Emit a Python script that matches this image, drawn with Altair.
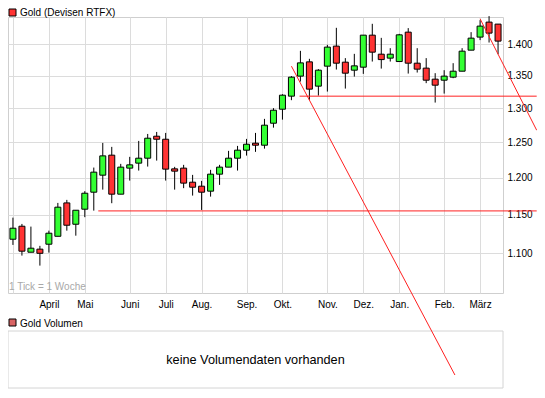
import altair as alt
import pandas as pd

# ---- weekly candles (price in USD, German number format on axis) ----
opens = [1118.0, 1134.9, 1101.4, 1105.3, 1111.6, 1121.8, 1165.8, 1137.5, 1157.4, 1180.3,
         1203.7, 1231.8, 1177.6, 1213.5, 1220.5, 1227.5, 1259.0, 1254.6, 1212.5, 1213.5,
         1194.0, 1188.5, 1181.7, 1205.1, 1214.9, 1227.5, 1238.9, 1248.9, 1246.0, 1278.0,
         1298.8, 1318.5, 1349.3, 1371.7, 1333.8, 1364.9, 1396.8, 1371.2, 1358.6, 1363.3,
         1414.6, 1383.9, 1377.6, 1372.2, 1419.5, 1369.6, 1361.8, 1344.6, 1343.0, 1347.7,
         1357.0, 1390.3, 1411.4, 1436.0, 1432.7]
highs = [1146.2, 1137.9, 1134.4, 1109.5, 1129.1, 1165.8, 1169.9, 1156.0, 1181.7, 1214.3,
         1249.3, 1243.6, 1219.5, 1229.4, 1252.2, 1262.3, 1265.2, 1263.8, 1215.3, 1218.1,
         1204.1, 1195.8, 1211.1, 1218.1, 1237.9, 1245.0, 1255.1, 1263.8, 1284.4, 1300.4,
         1321.5, 1349.3, 1389.2, 1376.5, 1360.2, 1398.9, 1426.6, 1377.6, 1384.4, 1414.6,
         1433.2, 1410.2, 1393.5, 1416.7, 1426.1, 1393.5, 1377.6, 1353.9, 1358.6, 1369.6,
         1393.5, 1419.5, 1439.3, 1446.0, 1432.7]
lows = [1110.7, 1097.1, 1101.4, 1084.5, 1100.9, 1121.8, 1129.1, 1122.6, 1146.8, 1155.5,
        1183.8, 1165.4, 1177.6, 1196.2, 1210.1, 1215.7, 1224.1, 1196.2, 1183.8, 1185.8,
        1175.7, 1156.4, 1174.3, 1190.3, 1214.9, 1210.1, 1231.2, 1236.5, 1241.1, 1271.5,
        1283.3, 1312.4, 1340.9, 1312.9, 1319.4, 1325.5, 1359.6, 1330.1, 1348.6, 1352.8,
        1372.2, 1361.1, 1372.2, 1372.2, 1353.3, 1354.9, 1338.4, 1308.8, 1322.4, 1346.1,
        1357.0, 1390.3, 1406.5, 1402.6, 1383.9]
closes = [1132.3, 1102.7, 1106.5, 1100.0, 1125.8, 1160.1, 1136.2, 1156.0, 1178.9, 1207.9,
          1230.8, 1177.6, 1214.9, 1218.1, 1227.5, 1256.1, 1254.6, 1212.1, 1209.3, 1192.7,
          1187.1, 1180.3, 1205.1, 1214.9, 1227.5, 1238.9, 1247.4, 1246.0, 1275.1, 1297.3,
          1320.0, 1347.7, 1370.1, 1329.2, 1358.6, 1395.2, 1369.6, 1353.9, 1365.4, 1414.6,
          1387.1, 1375.3, 1383.9, 1415.1, 1369.6, 1360.2, 1343.0, 1335.3, 1349.3, 1357.0,
          1388.7, 1409.7, 1429.4, 1417.9, 1404.9]
weeks = list(range(len(opens)))

# ---- month ticks (week index where a month starts) ----
month_weeks = [0, 4, 8, 13, 17, 21, 26, 30, 35, 39, 43, 48, 52]
month_names = ["", "April", "Mai", "Juni", "Juli", "Aug.", "Sep.", "Okt.", "Nov.",
               "Dez.", "Jan.", "Feb.", "März"]
price_ticks = [1100, 1150, 1200, 1250, 1300, 1350, 1400]

# ---- drawn lines ----
hline_from = [9.5, 31.9]
hline_to = [58.3, 58.3]
hline_price = [1155.1, 1318.5]

trend_from_week = [31.0, 52.0]
trend_from_price = [1364.9, 1441.5]
trend_to_week = [49.2, 58.3]
trend_to_price = [956.0, 1267.7]

GREEN = "#33ff33"
RED = "#ff3333"
LINE_RED = "#ff2020"
GRID = "#dcdcdc"
FONT = "Liberation Sans"

W, H = 495, 276

candles = pd.DataFrame({
    "w": weeks, "open": opens, "high": highs, "low": lows, "close": closes,
})
candles["dir"] = ["up" if c >= o else "down" for o, c in zip(opens, closes)]

hl = pd.DataFrame({"a": hline_from, "b": hline_to, "p": hline_price})
tl = pd.DataFrame({"a": trend_from_week, "b": trend_to_week,
                   "p": trend_from_price, "q": trend_to_price})
one = pd.DataFrame({"k": [0]})

label_expr = ("[" + ",".join("'" + n + "'" for n in month_names) + "][indexof(["
              + ",".join(str(v) for v in month_weeks) + "], datum.value)]")

xscale = alt.Scale(domain=[-0.55, 54.55], nice=False, zero=False, padding=0)
yscale = alt.Scale(type="log", domain=[1050.8, 1444.5], nice=False, zero=False, padding=0)

x_axis = alt.Axis(values=month_weeks, labelExpr=label_expr, grid=True, gridColor=GRID,
                  ticks=False, tickSize=0, domain=False, labelPadding=6, labelFlush=False,
                  labelOverlap=False, title=None, labelFontSize=10, labelFont=FONT,
                  labelColor="#000000")
y_axis = alt.Axis(values=price_ticks, orient="right", grid=True, gridColor=GRID,
                  ticks=False, tickSize=0, domain=False, labelPadding=4,
                  labelExpr="replace(format(datum.value, ','), ',', '.')",
                  labelOverlap=False, labelFlush=False, title=None, labelFontSize=10,
                  labelFont=FONT, labelColor="#000000")

X = lambda f: alt.X(f, scale=xscale, axis=x_axis)
Y = lambda f: alt.Y(f, scale=yscale, axis=y_axis)

wicks = alt.Chart(candles).mark_rule(color="#000000", strokeWidth=1).encode(
    x=X("w:Q"), y=Y("low:Q"), y2="high:Q")

bodies = alt.Chart(candles).mark_bar(size=6, stroke="#000000", strokeWidth=1).encode(
    x=X("w:Q"), y=Y("open:Q"), y2="close:Q",
    color=alt.Color("dir:N", scale=alt.Scale(domain=["up", "down"], range=[GREEN, RED]),
                    legend=None))

hlines = alt.Chart(hl).mark_rule(color=LINE_RED, strokeWidth=1, clip=False).encode(
    x=X("a:Q"), x2="b:Q", y=Y("p:Q"))

tlines = alt.Chart(tl).mark_rule(color=LINE_RED, strokeWidth=1, clip=False).encode(
    x=X("a:Q"), x2="b:Q", y=Y("p:Q"), y2="q:Q")

# decorations
title_sq = alt.Chart(one).mark_rect(fill=RED, stroke="#000000", strokeWidth=1).encode(
    x=alt.value(1), x2=alt.value(8), y=alt.value(-8), y2=alt.value(-1))
title_txt = alt.Chart(one).mark_text(text="Gold (Devisen RTFX)", align="left",
                                     baseline="alphabetic", font=FONT, fontSize=10,
                                     color="#000000").encode(
    x=alt.value(12), y=alt.value(-1))
tick_txt = alt.Chart(one).mark_text(text="1 Tick = 1 Woche", align="left",
                                    baseline="middle", font=FONT, fontSize=10,
                                    color="#a8a8a8").encode(
    x=alt.value(1), y=alt.value(270))
vol_sq = alt.Chart(one).mark_rect(fill="#d96464", stroke="#000000", strokeWidth=1).encode(
    x=alt.value(1), x2=alt.value(8), y=alt.value(302), y2=alt.value(309))
vol_txt = alt.Chart(one).mark_text(text="Gold Volumen", align="left",
                                   baseline="alphabetic", font=FONT, fontSize=10,
                                   color="#000000").encode(
    x=alt.value(12), y=alt.value(309.5))
vol_box = alt.Chart(one).mark_rect(fill="#ffffff", fillOpacity=0, stroke="#d4d4d4",
                                   strokeWidth=1).encode(
    x=alt.value(0), x2=alt.value(W), y=alt.value(314), y2=alt.value(371))
vol_msg = alt.Chart(one).mark_text(text="keine Volumendaten vorhanden", align="center",
                                   baseline="middle", font=FONT, fontSize=12.7,
                                   color="#000000").encode(
    x=alt.value(W / 2), y=alt.value(343))

chart = alt.layer(
    wicks, bodies, hlines, vol_box, tlines, title_sq, title_txt, tick_txt,
    vol_sq, vol_txt, vol_msg
).properties(
    width=W, height=H,
    autosize=alt.AutoSizeParams(type="none"),
    padding={"left": 0, "top": 9, "right": 34, "bottom": 96},
    background="#ffffff",
).configure_view(stroke="#cfcfcf", strokeWidth=1)

chart.save("out.html", embed_options={"renderer": "svg", "actions": False})
